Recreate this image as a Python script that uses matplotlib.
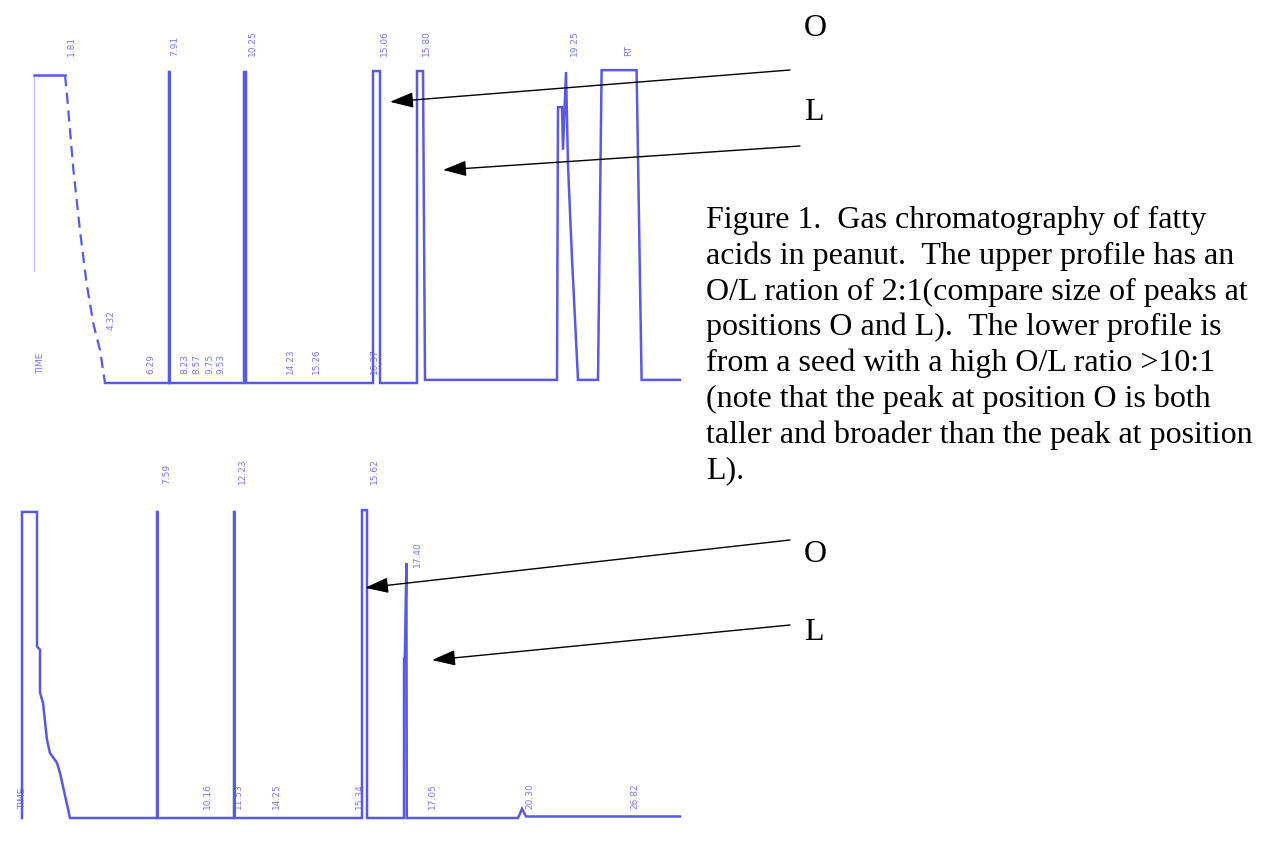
import numpy as np
import matplotlib.pyplot as plt

W, H = 1265, 856
blue = '#5a5ae0'

# upper chromatogram (retention scale, % full scale)
up_lead_t = [0.7, 0.7]
up_lead_v = [36, 99]
up_top_t = [0.7, 2.25]
up_top_v = [99, 99]
up_tail_t = [2.25, 2.33, 2.67, 3.0, 3.33, 3.67, 4.0, 4.25]
up_tail_v = [99, 94, 68.5, 49, 32, 19, 10.6, 0]
up_t = [4.25, 7.45, 7.45, 7.48, 7.48, 11.2, 11.2, 11.3, 11.3, 17.65, 17.65, 18.0, 18.0,
        19.85, 19.85, 20.15, 20.25, 26.85, 26.9, 27.1, 27.15, 27.3, 27.4, 27.6, 27.9, 28.9,
        29.08, 30.83, 31.08, 33.0]
up_v = [0, 0, 100, 100, 0, 0, 100, 100, 0, 0, 100.3, 100.3, 0,
        0, 100.3, 100.3, 1, 1, 88.7, 88.7, 75, 100, 70, 40, 1, 1,
        100.6, 100.6, 1, 1]
up_top_labels = ['1.81', '7.91', '10.25', '15.06', '15.80', '19.25', 'RT']
up_top_pos = [2.35, 7.5, 11.4, 18.0, 20.1, 27.5, 30.2]
up_low_labels = ['TIME', '4.32', '6.29', '8.23', '8.57', '9.75', '9.53', '14.23', '15.26', '16.37']
up_low_pos = [0.8, 4.35, 6.3, 8.0, 8.6, 9.25, 9.8, 13.3, 14.6, 17.5]
up_low_v = [3, 17, 3, 3, 3, 3, 3, 3, 3, 3]

# lower chromatogram
lo_t = [0.1, 0.1, 0.85, 0.85, 1.0, 1.0, 1.15, 1.35, 1.5, 1.85, 2.0, 2.5,
        6.85, 6.85, 6.88, 6.88, 10.7, 10.7, 10.73, 10.73, 17.1, 17.1, 17.35, 17.35,
        19.2, 19.2, 19.24, 19.32, 19.34, 24.9, 25.1, 25.3, 33.0]
lo_v = [0, 100, 100, 56, 55, 41, 37.6, 25.5, 21.2, 18, 14.7, 0,
        0, 100, 100, 0, 0, 100, 100, 0, 0, 100.6, 100.6, 0,
        0, 52, 52, 83.3, 0, 0, 3, 0.5, 0.5]
lo_top_labels = ['7.59', '12.23', '15.62', '17.40']
lo_top_pos = [7.1, 10.9, 17.5, 19.65]
lo_top_v = [109, 109, 109, 82]
lo_low_labels = ['TIME', '10.16', '11.53', '14.25', '15.34', '17.05', '20.30', '26.82']
lo_low_pos = [-0.1, 9.15, 10.7, 12.6, 16.75, 20.4, 25.25, 30.5]

caption = ["Figure 1.  Gas chromatography of fatty",
           "acids in peanut.  The upper profile has an",
           "O/L ration of 2:1(compare size of peaks at",
           "positions O and L).  The lower profile is",
           "from a seed with a high O/L ratio >10:1",
           "(note that the peak at position O is both",
           "taller and broader than the peak at position",
           "L)."]

fig = plt.figure(figsize=(W / 100, H / 100), dpi=100)
plt.rcParams['font.family'] = ['Liberation Serif', 'DejaVu Serif']

def px_axes(x0, y0, x1, y1):
    return fig.add_axes([x0 / W, 1 - y1 / H, (x1 - x0) / W, (y1 - y0) / H])

ax1 = px_axes(0, 30, 700, 400)
ax1.set_xlim(-1, 34)
ax1.set_ylim(-5.47, 113.5)
ax1.plot(up_lead_t, up_lead_v, color=blue, lw=1.0, alpha=0.35)
ax1.plot(up_top_t, up_top_v, color=blue, lw=1.8)
ax1.plot(up_tail_t, up_tail_v, color=blue, lw=1.6, ls=(0, (5, 3)))
ax1.plot(up_t, up_v, color=blue, lw=1.8, solid_joinstyle='miter')
for s, t in zip(up_top_labels, up_top_pos):
    ax1.text(t, 105, s, rotation=90, fontsize=6.5, color=blue, ha='left', va='bottom',
             family='DejaVu Sans', alpha=0.8)
for s, t, v in zip(up_low_labels, up_low_pos, up_low_v):
    ax1.text(t, v, s, rotation=90, fontsize=6.5, color=blue, ha='left', va='bottom',
             family='DejaVu Sans', alpha=0.8)
ax1.axis('off')

ax2 = px_axes(0, 470, 700, 840)
ax2.set_xlim(-1, 34)
ax2.set_ylim(-7.19, 113.7)
ax2.plot(lo_t, lo_v, color=blue, lw=1.8, solid_joinstyle='miter')
for s, t, v in zip(lo_top_labels, lo_top_pos, lo_top_v):
    ax2.text(t, v, s, rotation=90, fontsize=6.5, color=blue, ha='left', va='bottom',
             family='DejaVu Sans', alpha=0.8)
for s, t in zip(lo_low_labels, lo_low_pos):
    ax2.text(t, 3, s, rotation=90, fontsize=6.5, color=blue, ha='left', va='bottom',
             family='DejaVu Sans', alpha=0.8)
ax2.axis('off')

# arrows to O and L peaks
arrows = [(ax1, (18.5, 90.4), (790, 70)), (ax1, (21.15, 68.5), (800, 146)),
          (ax2, (17.25, 75.2), (790, 540)), (ax2, (20.6, 51.6), (790, 625))]
for ax, head, tail in arrows:
    ax.annotate('', xy=head, xytext=(tail[0] / W, 1 - tail[1] / H), textcoords='figure fraction',
                annotation_clip=False,
                arrowprops=dict(arrowstyle='-|>,head_length=0.9,head_width=0.3', color='black',
                                lw=1.0, mutation_scale=16, shrinkA=0, shrinkB=0))

for s, x, y in [('O', 804, 28), ('L', 804, 113), ('O', 804, 554), ('L', 804, 632)]:
    fig.text(x / W, 1 - y / H, s, fontsize=23, ha='left', va='center')

for i, line in enumerate(caption):
    fig.text(706 / W, 1 - (228 + 35.8 * i) / H, line, fontsize=23, ha='left', va='baseline')

fig.savefig('out.png', dpi=100)
